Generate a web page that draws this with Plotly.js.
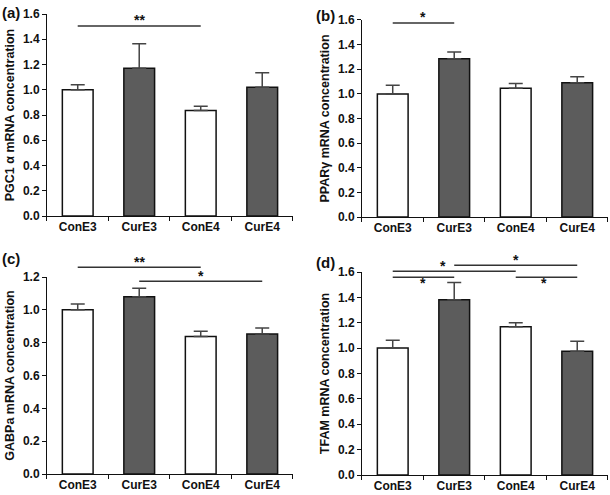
<!DOCTYPE html>
<html>
<head>
<meta charset="utf-8">
<script src="https://cdn.plot.ly/plotly-3.0.1.min.js"></script>
<style>
  html, body { margin: 0; padding: 0; background: #fff; }
  #chart { width: 610px; height: 495px; }
</style>
</head>
<body>
<div id="chart"></div>
<script>
// groups
var groups = ['ConE3', 'CurE3', 'ConE4', 'CurE4'];
var fills = ['#ffffff', '#5c5c5c', '#ffffff', '#5c5c5c'];

// (a) PGC1 alpha
var pgcMean = [1.0, 1.17, 0.835, 1.02];
var pgcErr = [0.04, 0.195, 0.035, 0.115];
// (b) PPAR gamma
var pparMean = [1.0, 1.285, 1.045, 1.09];
var pparErr = [0.07, 0.055, 0.04, 0.05];
// (c) GABPa
var gabpMean = [1.0, 1.08, 0.837, 0.853];
var gabpErr = [0.035, 0.052, 0.032, 0.036];
// (d) TFAM
var tfamMean = [1.0, 1.382, 1.168, 0.976];
var tfamErr = [0.063, 0.136, 0.032, 0.079];

// significance brackets: [from group, to group, line y, star x, star y, label]
var sigA = [[0, 2, 1.505, 1, 1.555, '**']];
var sigB = [[0, 1, 1.575, 0.5, 1.625, '*']];
var sigC = [[0, 2, 1.259, 1, 1.29, '**'], [1, 3, 1.174, 2, 1.205, '*']];
var sigD = [[0, 2, 1.605, 0.82, 1.645, '*'], [0, 1, 1.558, 0.5, 1.51, '*'],
            [1, 3, 1.653, 2, 1.693, '*'], [2, 3, 1.558, 2.46, 1.51, '*']];

var panels = [
  {mean: pgcMean, err: pgcErr, sig: sigA, title: 'PGC1 α mRNA concentration', max: 1.6,
   xd: [0.077, 0.4803], yd: [0.5636, 0.9717], tag: '(a)', tagX: 0.0, tagY: 0.995},
  {mean: pparMean, err: pparErr, sig: sigB, title: 'PPARγ mRNA concentration', max: 1.6,
   xd: [0.5934, 0.9967], yd: [0.5616, 0.9596], tag: '(b)', tagX: 0.515, tagY: 0.99},
  {mean: gabpMean, err: gabpErr, sig: sigC, title: 'GABPa mRNA concentration', max: 1.2,
   xd: [0.077, 0.4803], yd: [0.0424, 0.4404], tag: '(c)', tagX: 0.0, tagY: 0.5},
  {mean: tfamMean, err: tfamErr, sig: sigD, title: 'TFAM mRNA concentration', max: 1.6,
   xd: [0.5934, 0.9967], yd: [0.0404, 0.4505], tag: '(d)', tagX: 0.515, tagY: 0.49}
];

var fam = 'Liberation Sans, Arial, sans-serif';
var data = [];
var shapes = [];
var annotations = [];
var layout = {
  width: 610, height: 495,
  margin: {l: 0, r: 0, t: 0, b: 0},
  paper_bgcolor: '#fff', plot_bgcolor: '#fff',
  showlegend: false,
  font: {family: fam, color: '#111', size: 12, weight: 'bold'},
  bargap: 0.5
};

panels.forEach(function (p, i) {
  var n = i === 0 ? '' : String(i + 1);
  data.push({
    type: 'bar', x: groups, y: p.mean,
    xaxis: 'x' + n, yaxis: 'y' + n,
    marker: {color: fills, line: {color: '#111', width: 1.5}},
    error_y: {type: 'data', symmetric: false, array: p.err, arrayminus: [0, 0, 0, 0],
              color: '#444', thickness: 1.5, width: 7}
  });
  layout['xaxis' + n] = {
    domain: p.xd, anchor: 'y' + n, type: 'category',
    showline: true, linecolor: '#111', linewidth: 1,
    ticks: 'outside', tickson: 'boundaries', ticklen: 4, tickcolor: '#111',
    showgrid: false, zeroline: false, fixedrange: true,
    tickfont: {family: fam, size: 12, weight: 'bold', color: '#111'}
  };
  layout['yaxis' + n] = {
    domain: p.yd, anchor: 'x' + n, range: [0, p.max], dtick: 0.2, tickformat: '.1f',
    showline: true, linecolor: '#111', linewidth: 1,
    ticks: 'outside', ticklen: 4, tickcolor: '#111',
    showgrid: false, zeroline: false,
    tickfont: {family: fam, size: 12, weight: 'bold', color: '#111'},
    title: {text: p.title, standoff: 5,
            font: {family: fam, size: 12.5, weight: 'bold', color: '#111'}}
  };
  // brackets sit above the axis top, so place them on the y domain (value / axis max)
  p.sig.forEach(function (s) {
    shapes.push({type: 'line', xref: 'x' + n, yref: 'y' + n + ' domain',
                 x0: s[0], x1: s[1], y0: s[2] / p.max, y1: s[2] / p.max,
                 line: {color: '#333', width: 1.5}});
    annotations.push({xref: 'x' + n, yref: 'y' + n + ' domain', x: s[3], y: s[4] / p.max,
                      xanchor: 'center', yanchor: 'middle', text: s[5],
                      showarrow: false, font: {family: fam, size: 14, weight: 'bold', color: '#111'}});
  });
  annotations.push({xref: 'paper', yref: 'paper', x: p.tagX, y: p.tagY, xanchor: 'left', yanchor: 'top',
                    text: p.tag, showarrow: false,
                    font: {family: fam, size: 15, weight: 'bold', color: '#111'}});
});

layout.shapes = shapes;
layout.annotations = annotations;

Plotly.newPlot('chart', data, layout, {staticPlot: true});
</script>
</body>
</html>
